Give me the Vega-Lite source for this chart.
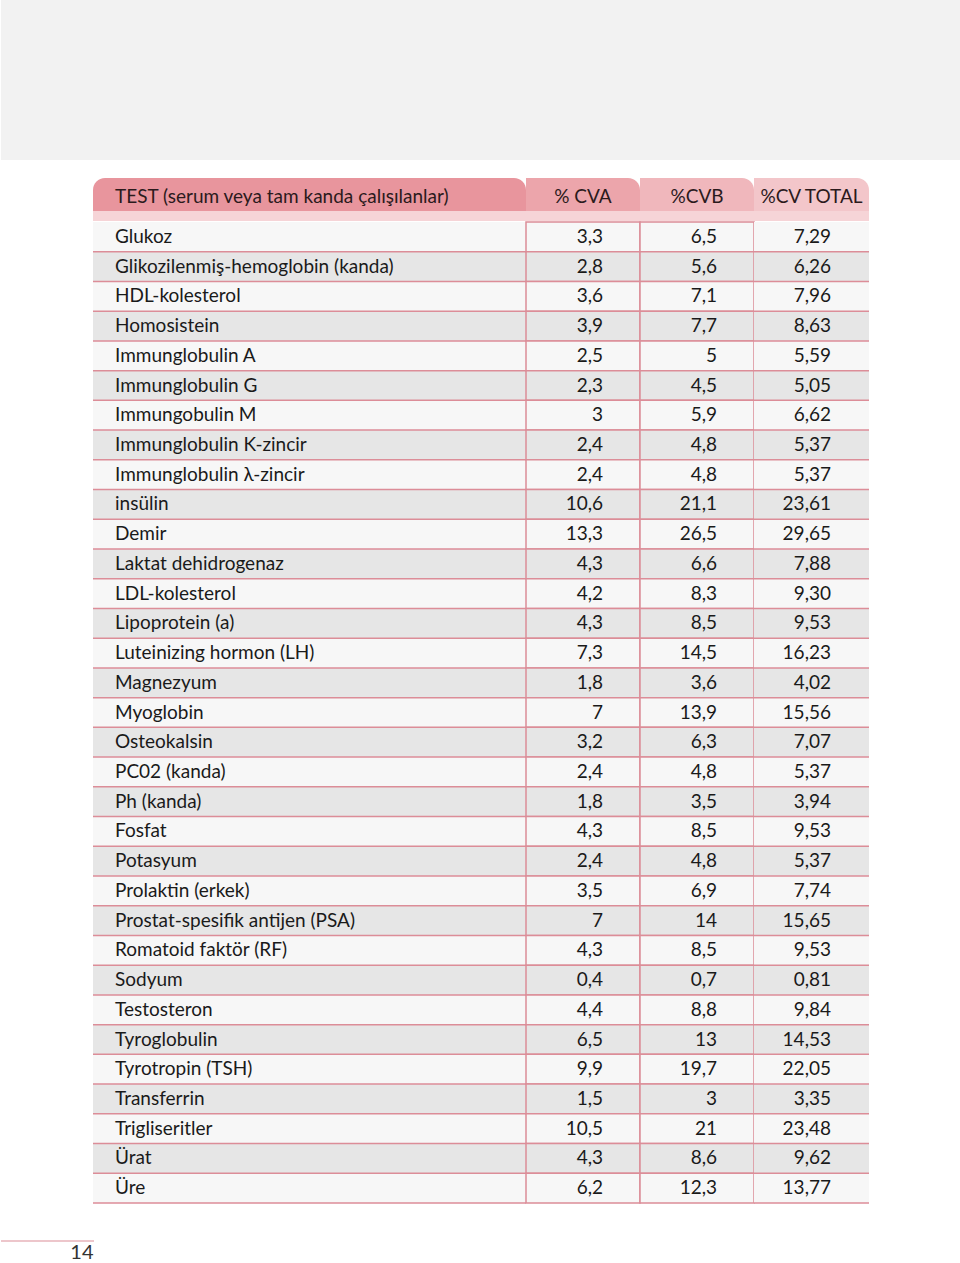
{
  "$schema": "https://vega.github.io/schema/vega-lite/v6.json",
  "padding": 0,
  "background": "#ffffff",
  "config": {
    "view": {"stroke": null},
    "locale": {"number": {"decimal": ",", "thousands": ".", "grouping": [3], "currency": ["", ""]}},
    "text": {"font": "Lato", "fontSize": 19, "color": "#1a1a1a", "baseline": "middle"}
  },
  "datasets": {
    "rows": [
      {"i": 1, "name": "Glukoz", "cva": 3.3, "cvb": 6.5, "total": 7.29},
      {"i": 2, "name": "Glikozilenmiş-hemoglobin (kanda)", "cva": 2.8, "cvb": 5.6, "total": 6.26},
      {"i": 3, "name": "HDL-kolesterol", "cva": 3.6, "cvb": 7.1, "total": 7.96},
      {"i": 4, "name": "Homosistein", "cva": 3.9, "cvb": 7.7, "total": 8.63},
      {"i": 5, "name": "Immunglobulin A", "cva": 2.5, "cvb": 5, "total": 5.59},
      {"i": 6, "name": "Immunglobulin G", "cva": 2.3, "cvb": 4.5, "total": 5.05},
      {"i": 7, "name": "Immungobulin M", "cva": 3, "cvb": 5.9, "total": 6.62},
      {"i": 8, "name": "Immunglobulin K-zincir", "cva": 2.4, "cvb": 4.8, "total": 5.37},
      {"i": 9, "name": "Immunglobulin λ-zincir", "cva": 2.4, "cvb": 4.8, "total": 5.37},
      {"i": 10, "name": "insülin", "cva": 10.6, "cvb": 21.1, "total": 23.61},
      {"i": 11, "name": "Demir", "cva": 13.3, "cvb": 26.5, "total": 29.65},
      {"i": 12, "name": "Laktat dehidrogenaz", "cva": 4.3, "cvb": 6.6, "total": 7.88},
      {"i": 13, "name": "LDL-kolesterol", "cva": 4.2, "cvb": 8.3, "total": 9.30},
      {"i": 14, "name": "Lipoprotein (a)", "cva": 4.3, "cvb": 8.5, "total": 9.53},
      {"i": 15, "name": "Luteinizing hormon (LH)", "cva": 7.3, "cvb": 14.5, "total": 16.23},
      {"i": 16, "name": "Magnezyum", "cva": 1.8, "cvb": 3.6, "total": 4.02},
      {"i": 17, "name": "Myoglobin", "cva": 7, "cvb": 13.9, "total": 15.56},
      {"i": 18, "name": "Osteokalsin", "cva": 3.2, "cvb": 6.3, "total": 7.07},
      {"i": 19, "name": "PC02 (kanda)", "cva": 2.4, "cvb": 4.8, "total": 5.37},
      {"i": 20, "name": "Ph (kanda)", "cva": 1.8, "cvb": 3.5, "total": 3.94},
      {"i": 21, "name": "Fosfat", "cva": 4.3, "cvb": 8.5, "total": 9.53},
      {"i": 22, "name": "Potasyum", "cva": 2.4, "cvb": 4.8, "total": 5.37},
      {"i": 23, "name": "Prolaktin (erkek)", "cva": 3.5, "cvb": 6.9, "total": 7.74},
      {"i": 24, "name": "Prostat-spesifik antijen (PSA)", "cva": 7, "cvb": 14, "total": 15.65},
      {"i": 25, "name": "Romatoid faktör (RF)", "cva": 4.3, "cvb": 8.5, "total": 9.53},
      {"i": 26, "name": "Sodyum", "cva": 0.4, "cvb": 0.7, "total": 0.81},
      {"i": 27, "name": "Testosteron", "cva": 4.4, "cvb": 8.8, "total": 9.84},
      {"i": 28, "name": "Tyroglobulin", "cva": 6.5, "cvb": 13, "total": 14.53},
      {"i": 29, "name": "Tyrotropin (TSH)", "cva": 9.9, "cvb": 19.7, "total": 22.05},
      {"i": 30, "name": "Transferrin", "cva": 1.5, "cvb": 3, "total": 3.35},
      {"i": 31, "name": "Trigliseritler", "cva": 10.5, "cvb": 21, "total": 23.48},
      {"i": 32, "name": "Ürat", "cva": 4.3, "cvb": 8.6, "total": 9.62},
      {"i": 33, "name": "Üre", "cva": 6.2, "cvb": 12.3, "total": 13.77}
    ]
  },
  "vconcat": [
    {"width": 960, "height": 160, "data": {"values": [{}]}, "mark": {"type": "rect", "fill": "#f2f2f2"}, "encoding": {}},
    {"width": 960, "height": 18, "data": {"values": [{}]}, "mark": {"type": "rect", "fill": "#ffffff"}, "encoding": {}},
    {
      "hconcat": [
        {"width": 92, "height": 33, "data": {"values": [{}]}, "mark": {"type": "rect", "fill": "#ffffff"}, "encoding": {}},
        {"width": 433, "height": 33, "data": {"values": [{"h": "TEST (serum veya tam kanda çalışılanlar)"}]},
         "layer": [
           {"mark": {"type": "rect", "fill": "#e8959d", "cornerRadiusTopLeft": 12, "cornerRadiusTopRight": 12}, "encoding": {}},
           {"mark": {"type": "text", "align": "left", "dx": -194.5, "dy": 2, "color": "#2b1a1c"}, "encoding": {"text": {"field": "h"}}}
         ]},
        {"width": 114, "height": 33, "data": {"values": [{"h": "% CVA"}]},
         "layer": [
           {"mark": {"type": "rect", "fill": "#eca5ab", "cornerRadiusTopRight": 12}, "encoding": {}},
           {"mark": {"type": "text", "align": "center", "dy": 2, "color": "#2b1a1c"}, "encoding": {"text": {"field": "h"}}}
         ]},
        {"width": 114, "height": 33, "data": {"values": [{"h": "%CVB"}]},
         "layer": [
           {"mark": {"type": "rect", "fill": "#f0b7bc", "cornerRadiusTopRight": 12}, "encoding": {}},
           {"mark": {"type": "text", "align": "center", "dy": 2, "color": "#2b1a1c"}, "encoding": {"text": {"field": "h"}}}
         ]},
        {"width": 115, "height": 33, "data": {"values": [{"h": "%CV TOTAL"}]},
         "layer": [
           {"mark": {"type": "rect", "fill": "#f3c6ca", "cornerRadiusTopRight": 12}, "encoding": {}},
           {"mark": {"type": "text", "align": "center", "dy": 2, "color": "#2b1a1c"}, "encoding": {"text": {"field": "h"}}}
         ]}
      ],
      "spacing": 0,
      "bounds": "flush"
    },
    {
      "hconcat": [
        {"width": 92, "height": 10, "data": {"values": [{}]}, "mark": {"type": "rect", "fill": "#ffffff"}, "encoding": {}},
        {"width": 776, "height": 10, "data": {"values": [{}]}, "mark": {"type": "rect", "fill": "#f6d4d7"}, "encoding": {}}
      ],
      "spacing": 0,
      "bounds": "flush"
    },
    {
      "hconcat": [
        {"width": 92, "height": 981, "data": {"values": [{}]}, "mark": {"type": "rect", "fill": "#ffffff"}, "encoding": {}},
        {"width": 433, "height": 981, "data": {"name": "rows"},
         "layer": [
           {"mark": {"type": "rect"}, "encoding": {
             "y": {"field": "i", "type": "ordinal", "axis": null, "scale": {"paddingInner": 0, "paddingOuter": 0}},
             "fill": {"condition": {"test": "datum.i % 2 === 0", "value": "#e6e6e6"}, "value": "#f7f7f7"}}},
           {"mark": {"type": "rule", "color": "#dc8d98", "strokeWidth": 1.5}, "encoding": {
             "y": {"field": "i", "type": "ordinal", "axis": null, "bandPosition": 1}}},
           {"mark": {"type": "text", "align": "left", "dx": -194.5}, "encoding": {
             "y": {"field": "i", "type": "ordinal", "axis": null},
             "text": {"field": "name", "type": "nominal"}}}
         ]},
        {"width": 114, "height": 981, "data": {"name": "rows"},
         "layer": [
           {"mark": {"type": "rect", "stroke": "#dc8d98", "strokeWidth": 1.5}, "encoding": {
             "y": {"field": "i", "type": "ordinal", "axis": null, "scale": {"paddingInner": 0, "paddingOuter": 0}},
             "fill": {"condition": {"test": "datum.i % 2 === 0", "value": "#e6e6e6"}, "value": "#f7f7f7"}}},
           {"mark": {"type": "text", "align": "right", "dx": 20}, "encoding": {
             "y": {"field": "i", "type": "ordinal", "axis": null},
             "text": {"field": "cva", "type": "quantitative", "format": "~g"}}}
         ]},
        {"width": 114, "height": 981, "data": {"name": "rows"},
         "layer": [
           {"mark": {"type": "rect", "stroke": "#dc8d98", "strokeWidth": 1.5}, "encoding": {
             "y": {"field": "i", "type": "ordinal", "axis": null, "scale": {"paddingInner": 0, "paddingOuter": 0}},
             "fill": {"condition": {"test": "datum.i % 2 === 0", "value": "#e6e6e6"}, "value": "#f7f7f7"}}},
           {"mark": {"type": "text", "align": "right", "dx": 20}, "encoding": {
             "y": {"field": "i", "type": "ordinal", "axis": null},
             "text": {"field": "cvb", "type": "quantitative", "format": "~g"}}}
         ]},
        {"width": 115, "height": 981, "data": {"name": "rows"},
         "layer": [
           {"mark": {"type": "rect"}, "encoding": {
             "y": {"field": "i", "type": "ordinal", "axis": null, "scale": {"paddingInner": 0, "paddingOuter": 0}},
             "fill": {"condition": {"test": "datum.i % 2 === 0", "value": "#e6e6e6"}, "value": "#f7f7f7"}}},
           {"mark": {"type": "rule", "color": "#dc8d98", "strokeWidth": 1.5}, "encoding": {
             "y": {"field": "i", "type": "ordinal", "axis": null, "bandPosition": 1}}},
           {"mark": {"type": "text", "align": "right", "dx": 19.5}, "encoding": {
             "y": {"field": "i", "type": "ordinal", "axis": null},
             "text": {"field": "total", "type": "quantitative", "format": ".2f"}}}
         ]}
      ],
      "spacing": 0,
      "bounds": "flush"
    },
    {"width": 960, "height": 36, "data": {"values": [{}]}, "mark": {"type": "rect", "fill": "#ffffff"}, "encoding": {}},
    {"width": 93, "height": 24, "data": {"values": [{"page": "14"}]},
     "layer": [
       {"mark": {"type": "rule", "color": "#dc8d98", "strokeWidth": 1.2}, "encoding": {
         "y": {"field": "page", "type": "ordinal", "axis": null, "bandPosition": 0, "scale": {"paddingInner": 0, "paddingOuter": 0}}}},
       {"mark": {"type": "text", "align": "right", "dx": 46, "fontSize": 20, "color": "#333333"}, "encoding": {
         "y": {"field": "page", "type": "ordinal", "axis": null},
         "text": {"field": "page", "type": "nominal"}}}
     ]}
  ],
  "spacing": 0
}
